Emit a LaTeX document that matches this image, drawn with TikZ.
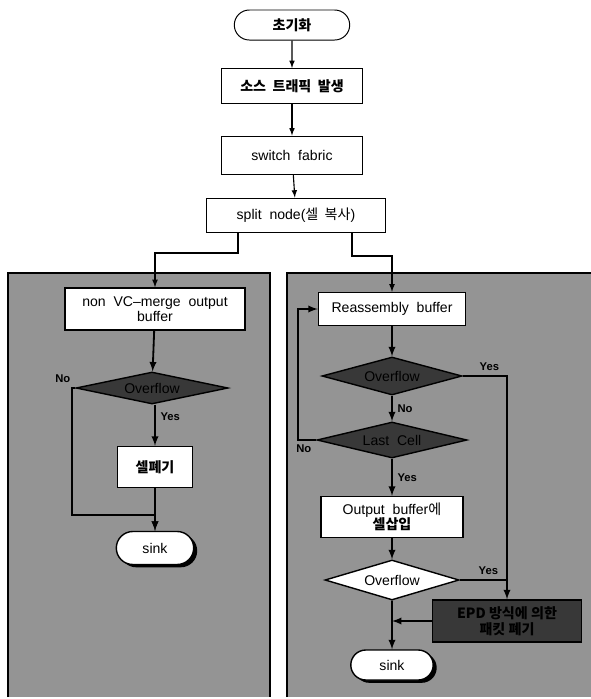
\documentclass[tikz,border=0pt]{standalone}
\usepackage{fontspec}
\setmainfont{Liberation Sans}
\newfontfamily\kr{Noto Sans CJK KR}
\usepackage{tikz}
\usetikzlibrary{arrows,shapes,shapes.geometric,shapes.misc,positioning,calc,shadows}

\tikzset{
  blk/.style={draw, fill=white, line width=1pt, align=center, inner sep=2pt, font=\fontsize{10}{11}\selectfont},
  term/.style={blk, rounded rectangle},
  dec/.style={draw, line width=1pt, diamond, aspect=4, inner sep=0pt, align=center, font=\fontsize{10}{11}\selectfont},
  darkdec/.style={dec, fill=black!78},
  sinkbox/.style={term, drop shadow={shadow xshift=2.5pt, shadow yshift=-2pt, fill=black, opacity=1}},
  lab/.style={font=\fontsize{8}{9}\selectfont\bfseries},
  flow/.style={->, line width=1.3pt},
}

\begin{document}
\begin{tikzpicture}[x=0.025cm, y=-0.025cm, >=latex]
  \useasboundingbox (0,0) rectangle (591,699);

  \fill[black!42] (8,273) rectangle (270,697);
  \draw[line width=1.2pt] (8,697) -- (8,273) -- (270,273) -- (270,697);
  \fill[black!42] (287,273) rectangle (591,697);
  \draw[line width=1.2pt] (287,697) -- (287,273) -- (591,273);

  \node[term, line width=0.7pt, minimum width=3.025cm, minimum height=0.75cm] (init) at (292,25) {\kr\bfseries 초기화};
  \node[blk, line width=0.7pt, minimum width=3.5cm, minimum height=0.875cm] (src) at (292,86) {\kr\bfseries 소스\ \ 트래픽\ \ 발생};
  \node[blk, line width=0.7pt, minimum width=3.5cm, minimum height=0.95cm] (fabric) at (292,155) {switch\ \ fabric};
  \node[blk, line width=0.7pt, minimum width=4.45cm, minimum height=0.85cm] (split) at (296,215) {split\ \ node({\kr 셀\ \ 복사})};

  \draw[->, line width=0.8pt] (init) -- (src);
  \draw[->, line width=0.8pt] (src) -- (fabric);
  \draw[->, line width=0.8pt] (fabric) -- (split);

  % non VC-merge
  \node[blk, minimum width=4.5cm, minimum height=1.05cm] (nvcbuf) at (155,309) {non\ \ VC--merge\ \ output\\buffer};
  \node[darkdec, minimum width=3.8cm, minimum height=0.8cm] (ovf1) at (152,388) {Overflow};
  \node[blk, minimum width=1.875cm, minimum height=1.025cm] (drop1) at (155,467) {\kr\bfseries 셀폐기};
  \node[sinkbox, minimum width=2.075cm, minimum height=0.825cm] (sink1) at (155,548) {sink};

  \coordinate (sl) at (238,253);
  \coordinate (nl) at (72,515);
  \draw[->, line width=0.9pt] (split.south -| sl) -- (sl) -| (nvcbuf.north);
  \draw[flow] (nvcbuf) -- (ovf1);
  \draw[flow] (ovf1.south -| drop1) -- node[lab, pos=0.3, right] {Yes} (drop1);
  \draw[flow] (ovf1.west) -| (nl) -| (sink1.north);
  \node[lab, anchor=south east] at (ovf1.west) {No};
  \draw[flow] (drop1) -- (sink1);

  % reassembly
  \node[blk, minimum width=3.675cm, minimum height=0.825cm] (reasm) at (392,309) {Reassembly\ \ buffer};
  \node[darkdec, minimum width=3.5cm, minimum height=0.95cm] (ovf2) at (392,376) {Overflow};
  \node[darkdec, minimum width=3.75cm, minimum height=0.9cm] (last) at (392,440) {Last\ \ Cell};
  \node[blk, minimum width=3.55cm, minimum height=1.025cm] (outbuf) at (392,517) {Output\ \ buffer{\kr 에}\\{\kr\bfseries 셀삽입}};
  \node[dec, fill=white, minimum width=3.35cm, minimum height=1.0cm] (ovf3) at (392,580) {Overflow};
  \node[blk, fill=black!78, minimum width=3.725cm, minimum height=1.05cm] (drop2) at (507,621) {\kr\bfseries EPD 방식에 의한\\\kr\bfseries 패킷 폐기};
  \node[sinkbox, minimum width=2.2cm, minimum height=0.75cm] (sink2) at (392,665) {sink};

  \coordinate (sr) at (352,256);
  \coordinate (rl) at (298,309);
  \draw[->, line width=0.9pt] (split.south -| sr) -- (sr) -| (reasm.north);
  \draw[flow] (reasm) -- (ovf2);
  \draw[flow] (ovf2.east) -| (drop2.north);
  \node[lab, anchor=south west] at ($(ovf2.east)+(12,0)$) {Yes};
  \draw[flow] (ovf2) -- node[lab, right] {No} (last);
  \draw[flow] (last.west) -| (rl) -- (reasm.west);
  \node[lab, anchor=north east] at (last.west) {No};
  \draw[flow] (last) -- node[lab, right] {Yes} (outbuf);
  \draw[flow] (outbuf) -- (ovf3);
  \draw[line width=1.3pt] (ovf3.east) -- (ovf3.east -| drop2.north);
  \node[lab, anchor=south west] at ($(ovf3.east)+(14,0)$) {Yes};
  \draw[flow] (ovf3) -- (sink2);
  \draw[flow] (drop2.west) -- (drop2.west -| sink2.north);
\end{tikzpicture}
\end{document}
